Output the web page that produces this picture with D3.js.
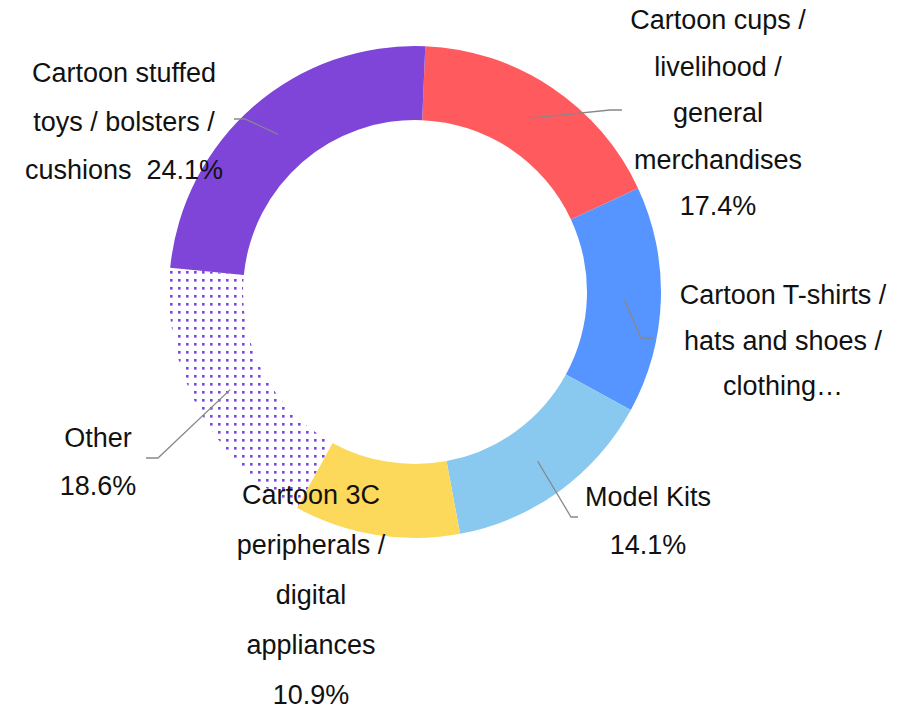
<!DOCTYPE html>
<html>
<head>
<meta charset="utf-8">
<script src="https://cdn.jsdelivr.net/npm/d3@7"></script>
<style>
html,body{margin:0;padding:0;background:#fff;}
svg{display:block;}
text{font-family:"Liberation Sans",Arial,sans-serif;white-space:pre;}
</style>
</head>
<body>
<svg id="chart" width="914" height="715"></svg>
<script>
// ---- data ----
const categories = [
  "Cartoon cups / livelihood / general merchandises",
  "Cartoon T-shirts / hats and shoes / clothing",
  "Model Kits",
  "Cartoon 3C peripherals / digital appliances",
  "Other",
  "Cartoon stuffed toys / bolsters / cushions"
];
const shares = [17.4, 14.9, 14.1, 10.9, 18.6, 24.1];
const labelLines = [
  ["Cartoon cups /", "livelihood /", "general", "merchandises", "17.4%"],
  ["Cartoon T-shirts /", "hats and shoes /", "clothing…"],
  ["Model Kits", "14.1%"],
  ["Cartoon 3C", "peripherals /", "digital", "appliances", "10.9%"],
  ["Other", "18.6%"],
  ["Cartoon stuffed", "toys / bolsters /", "cushions  24.1%"]
];

// ---- layout / style ----
const colors = ["#ff5b5f", "#5694ff", "#89c9ef", "#fcd95a", "url(#dots)", "#7e45d8"];
const cx = 415, cy = 292, rOuter = 246, rInner = 172;
const startOffset = 2.4 * Math.PI / 180;
// label anchors: [x, first line y, line step], leader elbow & end
const labelPos = [
  {x: 718, y: 20, step: 46.5, elbow: [610, 110], end: [622, 110]},
  {x: 783, y: 295, step: 45.5, elbow: [641, 338], end: [654, 338]},
  {x: 648, y: 497, step: 48, elbow: [571, 517], end: [578, 517]},
  {x: 311, y: 495, step: 50, elbow: null, end: null},
  {x: 98, y: 438, step: 48, elbow: [158, 458], end: [146, 458]},
  {x: 124, y: 73, step: 48.5, elbow: [245, 119], end: [234, 119]}
];

const svg = d3.select("#chart");
const defs = svg.append("defs");
const pat = defs.append("pattern").attr("id", "dots")
  .attr("patternUnits", "userSpaceOnUse").attr("width", 8).attr("height", 8);
pat.append("rect").attr("width", 8).attr("height", 8).attr("fill", "#fff");
pat.append("rect").attr("x", 3).attr("y", 3).attr("width", 2.6).attr("height", 2.6).attr("fill", "#7e45d8");

const pie = d3.pie().sort(null).value(d => d)
  .startAngle(startOffset).endAngle(startOffset + 2 * Math.PI);
const arcs = pie(shares);
const arc = d3.arc().innerRadius(rInner).outerRadius(rOuter);
const midArc = d3.arc().innerRadius((rInner + rOuter) / 2).outerRadius((rInner + rOuter) / 2);

const g = svg.append("g").attr("transform", `translate(${cx},${cy})`);
g.selectAll("path.slice").data(arcs).join("path")
  .attr("class", "slice")
  .attr("d", arc)
  .attr("fill", (d, i) => colors[i]);

// leader lines
arcs.forEach((a, i) => {
  const lp = labelPos[i];
  if (!lp.elbow) return;
  const c = midArc.centroid(a);
  const pts = [[cx + c[0], cy + c[1]], lp.elbow, lp.end];
  svg.append("path")
    .attr("d", d3.line()(pts))
    .attr("fill", "none")
    .attr("stroke", "#888")
    .attr("stroke-width", 1.3);
});

// labels
labelLines.forEach((lines, i) => {
  const lp = labelPos[i];
  const t = svg.append("text")
    .attr("text-anchor", "middle")
    .attr("font-size", 27)
    .attr("fill", "#111")
    .attr("xml:space", "preserve");
  lines.forEach((s, j) => {
    t.append("tspan")
      .attr("x", lp.x)
      .attr("y", lp.y + j * lp.step)
      .attr("dy", "0.35em")
      .text(s);
  });
});
</script>
</body>
</html>
